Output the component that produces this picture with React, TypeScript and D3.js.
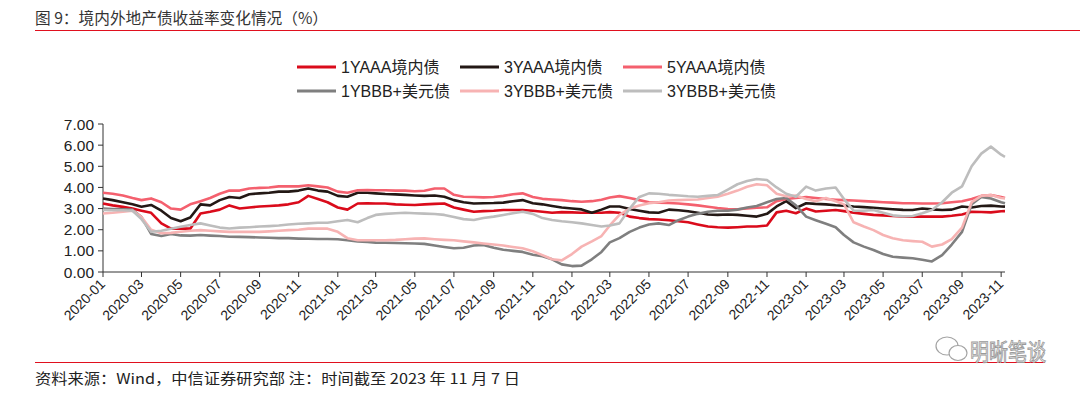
import React from "react";
import * as d3 from "d3";

// ---------- data ----------
const START = "2020-01-01";
const END = "2023-11-07";
// semi-monthly observation dates (1st and 16th of each month), plus the last date
const dates: Date[] = (() => {
  const months = d3.timeMonth.range(new Date(2020, 0, 1), new Date(2023, 10, 2));
  const out: Date[] = [];
  months.forEach((m, i) => {
    out.push(m);
    if (i < months.length - 1) out.push(new Date(m.getFullYear(), m.getMonth(), 16));
  });
  out.push(new Date(2023, 10, 7));
  return out;
})();

const seriesNames = [
  "1YAAA境内债",
  "3YAAA境内债",
  "5YAAA境内债",
  "1YBBB+美元债",
  "3YBBB+美元债",
  "3YBBB+美元债",
];

const aaa1Y = [
  3.24, 3.15, 3.08, 3.0, 2.9, 2.8, 2.3, 2.05, 2.05, 2.05, 2.77, 2.85, 2.95, 3.15, 3.0, 3.05, 3.1, 3.12, 3.15, 3.2, 3.3, 3.6, 3.45, 3.3,
  3.05, 2.95, 3.24, 3.25, 3.24, 3.24, 3.2, 3.18, 3.17, 3.2, 3.22, 3.24, 3.05, 2.95, 2.85, 2.88, 2.9, 2.93, 2.93, 2.93, 2.9, 2.85, 2.8, 2.83,
  2.82, 2.8, 2.8, 2.8, 2.83, 2.8, 2.62, 2.55, 2.5, 2.48, 2.45, 2.4, 2.35, 2.25, 2.15, 2.12, 2.1, 2.12, 2.15, 2.15, 2.2, 2.82, 2.9, 2.78,
  3.0, 2.86, 2.9, 2.93, 2.88, 2.8, 2.75, 2.7, 2.68, 2.65, 2.63, 2.62, 2.62, 2.62, 2.62, 2.66, 2.72, 2.85, 2.84, 2.82, 2.87, 2.88,
];
const aaa3Y = [
  3.48, 3.4, 3.3, 3.2, 3.09, 3.17, 2.9, 2.55, 2.4, 2.58, 3.2, 3.15, 3.4, 3.55, 3.5, 3.68, 3.72, 3.75, 3.8, 3.8, 3.85, 3.95, 3.85, 3.8,
  3.6, 3.56, 3.75, 3.75, 3.72, 3.69, 3.67, 3.65, 3.62, 3.6, 3.62, 3.56, 3.4, 3.3, 3.24, 3.25, 3.26, 3.28, 3.35, 3.4, 3.25, 3.2, 3.12, 3.05,
  3.0, 2.96, 2.8, 2.95, 3.1, 3.1, 2.98, 2.9, 2.82, 2.8, 2.95, 2.92, 2.87, 2.8, 2.72, 2.7, 2.72, 2.7, 2.66, 2.62, 2.75, 3.1, 3.35, 3.02,
  3.25, 3.22, 3.2, 3.16, 3.14, 3.1, 3.07, 3.04, 3.0, 2.97, 2.94, 2.93, 3.0, 2.96, 2.93, 2.95, 3.1, 3.05, 3.12, 3.14, 3.1, 3.09,
];
const aaa5Y = [
  3.75, 3.7, 3.62, 3.5, 3.4, 3.48, 3.3, 3.0, 2.95, 3.2, 3.35, 3.5, 3.7, 3.85, 3.85, 3.95, 3.98, 4.0, 4.05, 4.05, 4.05, 4.1, 4.05, 4.0,
  3.8, 3.75, 3.87, 3.88, 3.87, 3.87, 3.85, 3.85, 3.82, 3.84, 3.95, 3.95, 3.65, 3.56, 3.55, 3.53, 3.55, 3.6, 3.68, 3.72, 3.55, 3.46, 3.43, 3.4,
  3.35, 3.32, 3.35, 3.42, 3.52, 3.59, 3.5, 3.4, 3.3, 3.28, 3.26, 3.24, 3.2, 3.15, 3.09, 3.03, 2.98, 2.97, 3.0, 3.04, 3.06, 3.35, 3.45, 3.5,
  3.55, 3.5, 3.45, 3.42, 3.4, 3.38, 3.35, 3.33, 3.3, 3.28, 3.25, 3.25, 3.24, 3.24, 3.25, 3.3, 3.35, 3.45, 3.6, 3.64, 3.55, 3.5,
];
const bbb1YUsd = [
  3.0, 2.98, 2.96, 2.95, 2.6, 1.8, 1.7, 1.8, 1.73, 1.72, 1.75, 1.72, 1.7, 1.67, 1.66, 1.65, 1.63, 1.62, 1.6, 1.6, 1.58, 1.57, 1.56, 1.56,
  1.55, 1.5, 1.45, 1.42, 1.39, 1.38, 1.37, 1.36, 1.35, 1.33, 1.25, 1.18, 1.12, 1.15, 1.25, 1.28, 1.15, 1.05, 1.0, 0.95, 0.82, 0.75, 0.6, 0.36,
  0.28, 0.3, 0.6, 0.95, 1.4, 1.6, 1.9, 2.1, 2.25, 2.3, 2.22, 2.45, 2.62, 2.75, 2.85, 2.9, 2.9, 2.95, 3.05, 3.12, 3.3, 3.45, 3.5, 3.15,
  2.62, 2.45, 2.28, 2.12, 1.75, 1.4, 1.2, 1.04, 0.85, 0.72, 0.68, 0.65, 0.58, 0.5, 0.8, 1.3, 1.9, 3.2, 3.55, 3.48, 3.3, 3.25,
];
const bbb3YUsdA = [
  2.77, 2.8, 2.85, 2.9, 2.6, 2.0, 1.83, 1.85, 1.9, 1.95, 1.98, 1.95, 1.92, 1.9, 1.9, 1.9, 1.9, 1.92, 1.95, 1.98, 2.0, 2.05, 2.06, 2.05,
  1.9, 1.6, 1.5, 1.5, 1.5, 1.5, 1.52, 1.55, 1.58, 1.59, 1.55, 1.52, 1.5, 1.45, 1.4, 1.35, 1.3, 1.25, 1.18, 1.12, 0.98, 0.8, 0.6, 0.55,
  0.85, 1.2, 1.45, 1.7, 2.2, 2.7, 3.0, 3.15, 3.25, 3.3, 3.38, 3.4, 3.42, 3.43, 3.5, 3.56, 3.7, 3.85, 4.03, 4.15, 4.1, 3.7, 3.58, 3.62,
  3.45, 3.35, 3.5, 3.35, 3.2, 2.35, 2.15, 1.98, 1.75, 1.6, 1.5, 1.46, 1.43, 1.2, 1.3, 1.55, 2.1, 3.3, 3.6, 3.64, 3.5, 3.48,
];
const bbb3YUsdB = [
  2.93, 2.92, 2.92, 2.9, 2.5, 1.9, 1.95, 2.05, 2.14, 2.22, 2.3, 2.2, 2.1, 2.06, 2.1, 2.12, 2.15, 2.17, 2.2, 2.25, 2.28, 2.3, 2.33, 2.33,
  2.4, 2.46, 2.35, 2.55, 2.7, 2.75, 2.78, 2.8, 2.78, 2.76, 2.74, 2.7, 2.6, 2.5, 2.46, 2.55, 2.62, 2.7, 2.78, 2.85, 2.75, 2.55, 2.46, 2.4,
  2.35, 2.3, 2.22, 2.15, 2.2, 2.3, 3.0, 3.55, 3.72, 3.7, 3.65, 3.62, 3.58, 3.56, 3.6, 3.64, 3.9, 4.15, 4.3, 4.4, 4.35, 4.0, 3.7, 3.56,
  4.04, 3.85, 3.95, 4.0, 3.45, 2.9, 2.9, 2.93, 2.8, 2.68, 2.64, 2.65, 2.78, 2.93, 3.3, 3.75, 4.05, 5.0, 5.6, 5.93, 5.55, 5.45,
];

const seriesValues = [aaa1Y, aaa3Y, aaa5Y, bbb1YUsd, bbb3YUsdA, bbb3YUsdB];
const colors = ["#DA0B1B", "#231815", "#F4606E", "#7F7F7F", "#F7B3B3", "#BDBDBD"];

const yTicks = [0, 1, 2, 3, 4, 5, 6, 7];
const xTickLabels = [
  "2020-01", "2020-03", "2020-05", "2020-07", "2020-09", "2020-11",
  "2021-01", "2021-03", "2021-05", "2021-07", "2021-09", "2021-11",
  "2022-01", "2022-03", "2022-05", "2022-07", "2022-09", "2022-11",
  "2023-01", "2023-03", "2023-05", "2023-07", "2023-09", "2023-11",
];

const title = "图 9：境内外地产债收益率变化情况（%）";
const source = "资料来源：Wind，中信证券研究部 注：时间截至 2023 年 11 月 7 日";

// ---------- layout ----------
const W = 1080;
const H = 399;
const plot = { left: 103, right: 1005, top: 124, bottom: 272 };
const FONT = "'Liberation Sans', Arial, 'Noto Sans CJK SC', sans-serif";
const CJK = "'Noto Sans CJK SC', 'Liberation Sans', sans-serif";

export default function App() {
  const parse = d3.timeParse("%Y-%m-%d");
  const x = d3
    .scaleTime()
    .domain([parse(START) as Date, parse(END) as Date])
    .range([plot.left, plot.right]);
  const y = d3.scaleLinear().domain([0, 7]).range([plot.bottom, plot.top]);
  const parseMonth = d3.timeParse("%Y-%m");

  const line = d3
    .line<number>()
    .x((_, i) => x(dates[i]))
    .y((d) => y(d));

  const legendCols = [297, 460, 623];
  const legendRows = [67, 91];

  return (
    <svg
      width={W}
      height={H}
      style={{ position: "absolute", left: 0, top: 0, display: "block", background: "#fff" }}
    >
      {/* title */}
      <text
        x={35}
        y={24}
        fontFamily={CJK}
        fontSize={15.5}
        fill="#333"
        textLength={293}
        lengthAdjust="spacingAndGlyphs"
      >
        {title}
      </text>
      <line x1={35} x2={W} y1={30.5} y2={30.5} stroke="#E0101E" strokeWidth={1} />

      {/* legend */}
      {seriesNames.map((name, i) => {
        const cx = legendCols[i % 3];
        const cy = legendRows[Math.floor(i / 3)];
        return (
          <g key={"lg" + i}>
            <line x1={cx} x2={cx + 39} y1={cy} y2={cy} stroke={colors[i]} strokeWidth={3} />
            <text x={cx + 44} y={cy + 5.5} fontFamily={FONT} fontSize={16} fill="#222">
              {name}
            </text>
          </g>
        );
      })}

      {/* axes */}
      <line x1={plot.left} x2={plot.left} y1={plot.top} y2={plot.bottom} stroke="#333" strokeWidth={1} />
      <line x1={plot.left} x2={plot.right} y1={plot.bottom} y2={plot.bottom} stroke="#333" strokeWidth={1} />
      {yTicks.map((t) => (
        <g key={"yt" + t}>
          <line x1={plot.left - 5} x2={plot.left} y1={y(t)} y2={y(t)} stroke="#333" />
          <text
            x={plot.left - 9}
            y={y(t) + 5.5}
            textAnchor="end"
            fontFamily={FONT}
            fontSize={15.5}
            fill="#222"
          >
            {t.toFixed(2)}
          </text>
        </g>
      ))}
      {xTickLabels.map((lab) => {
        const tx = x(parseMonth(lab) as Date);
        return (
          <g key={"xt" + lab}>
            <line x1={tx} x2={tx} y1={plot.bottom} y2={plot.bottom + 5} stroke="#333" />
            <text
              transform={`translate(${tx + 3},${plot.bottom + 13}) rotate(-45)`}
              textAnchor="end"
              fontFamily={FONT}
              fontSize={14}
              fill="#222"
            >
              {lab}
            </text>
          </g>
        );
      })}

      {/* series */}
      {seriesValues.map((vals, i) => (
        <path
          key={"s" + i}
          d={line(vals) || ""}
          fill="none"
          stroke={colors[i]}
          strokeWidth={2.6}
          strokeLinejoin="round"
        />
      ))}

      {/* footer */}
      <line x1={35} x2={1045} y1={362.5} y2={362.5} stroke="#E0101E" strokeWidth={1} />
      <text
        x={35}
        y={384}
        fontFamily={CJK}
        fontSize={14.5}
        fill="#222"
        textLength={485}
        lengthAdjust="spacingAndGlyphs"
      >
        {source}
      </text>

      {/* watermark */}
      <g stroke="#9a9a9a" strokeWidth={1.2} fill="#fff" opacity={0.9}>
        <ellipse cx={947} cy={346} rx={11} ry={9} />
        <ellipse cx={958} cy={353} rx={9} ry={7.5} />
      </g>
      <text
        x={970}
        y={360}
        fontFamily={CJK}
        fontSize={23}
        fill="#f2f2f2"
        stroke="#9a9a9a"
        strokeWidth={0.9}
        textLength={76}
        lengthAdjust="spacingAndGlyphs"
      >
        明晰笔谈
      </text>
    </svg>
  );
}
